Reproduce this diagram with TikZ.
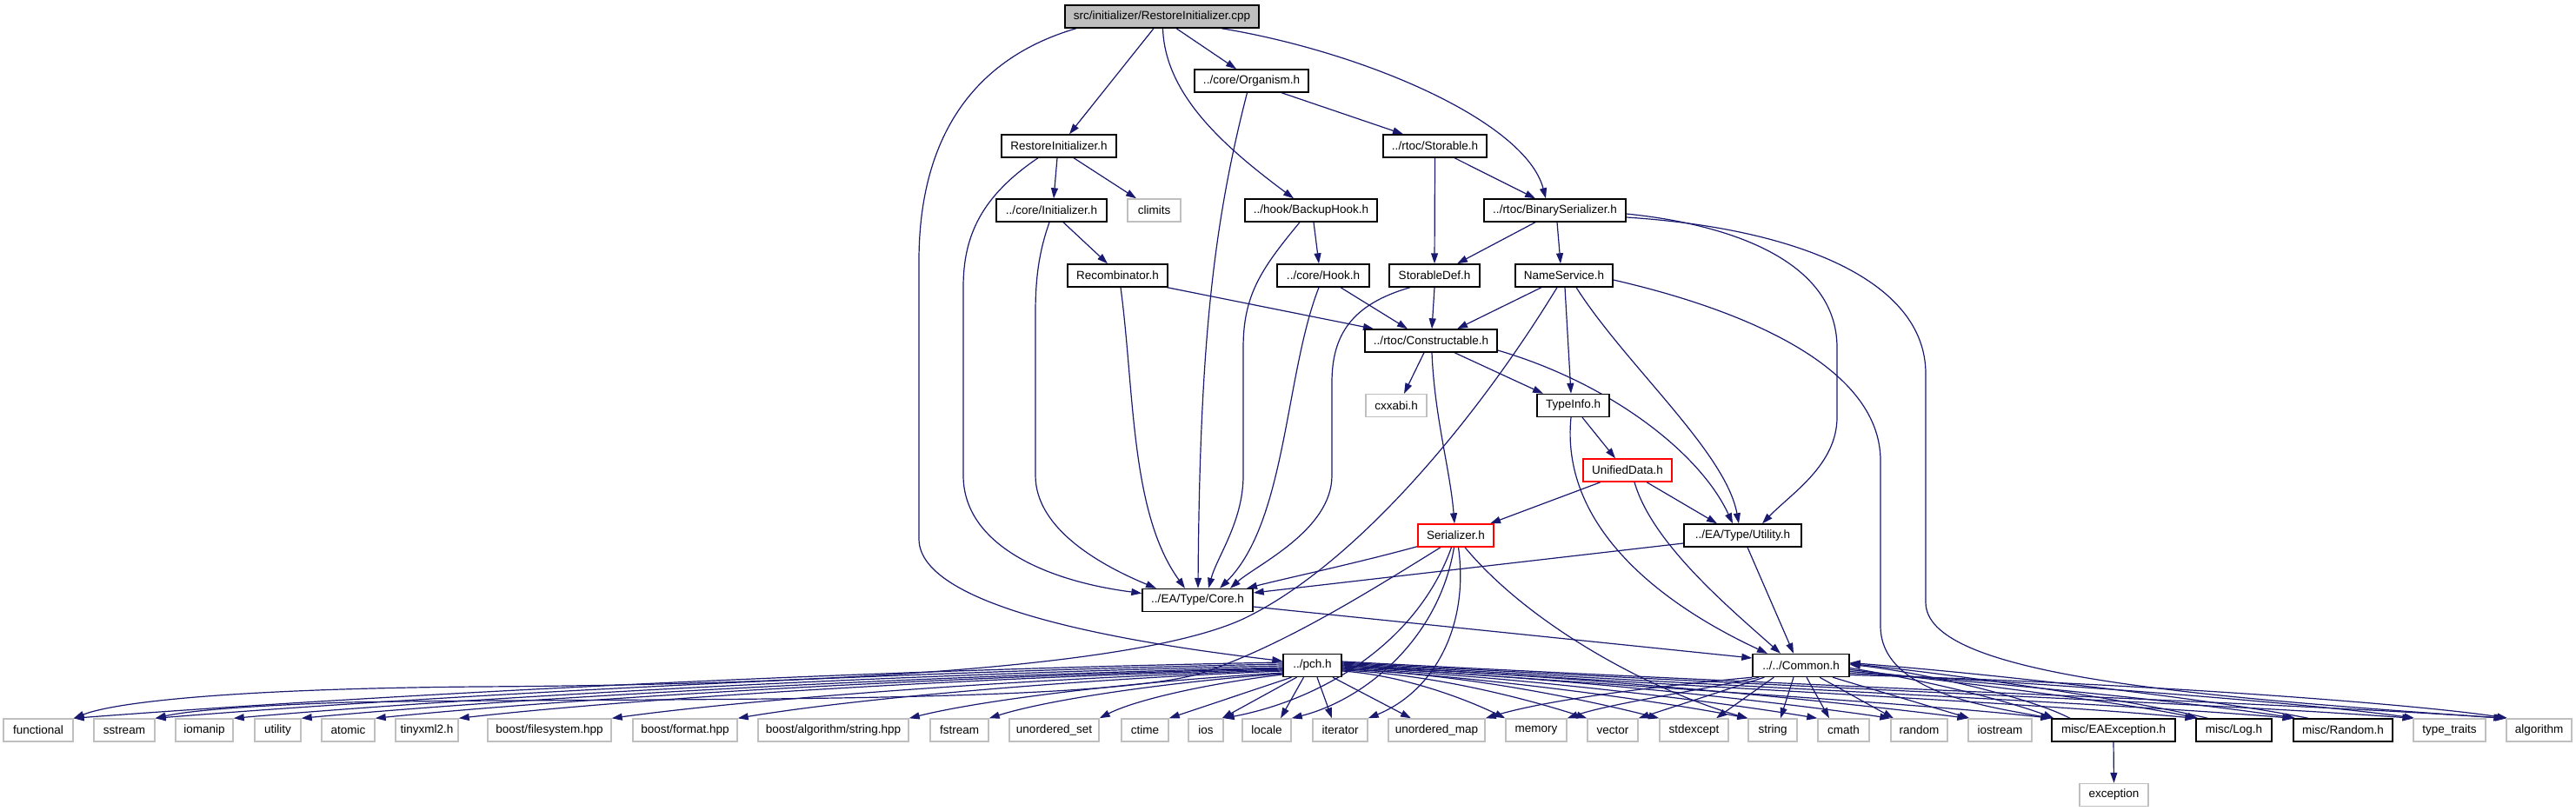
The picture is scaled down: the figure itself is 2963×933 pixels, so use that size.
\documentclass[tikz,border=0pt]{standalone}
\usepackage{fontspec}
\setmainfont{Liberation Sans}
\usetikzlibrary{arrows.meta}
\definecolor{edgec}{HTML}{191970}
\definecolor{sysg}{HTML}{BFBFBF}
\pgfdeclarelayer{bg}
\pgfsetlayers{bg,main}
\begin{document}
\begin{tikzpicture}[x=1pt, y=-1pt,
  font=\fontsize{13.5}{16}\selectfont,
  box/.style={draw=black, line width=1.4pt, fill=white, minimum height=26pt, inner sep=0pt},
  sbox/.style={box, draw=sysg},
  rbox/.style={box, draw=red},
  root/.style={box, fill=sysg},
  e/.style={draw=edgec, line width=1.2pt, -{Triangle[length=12pt,width=8pt]}}]
\useasboundingbox (0,0) rectangle (2963,933);
% ---------- nodes ----------
\node[root, minimum width=223pt] (cpp) at (1336.5,19) {src/initializer/RestoreInitializer.cpp};
\node[box, minimum width=131pt] (org) at (1439.5,93) {../core/Organism.h};
\node[box, minimum width=132pt] (rih) at (1218,168) {RestoreInitializer.h};
\node[box, minimum width=119pt] (sto) at (1650.5,168) {../rtoc/Storable.h};
\node[box, minimum width=127pt] (ini) at (1209.5,242) {../core/Initializer.h};
\node[sbox, minimum width=61pt] (cli) at (1327.5,242) {climits};
\node[box, minimum width=152pt] (bkh) at (1508,242) {../hook/BackupHook.h};
\node[box, minimum width=163pt] (bin) at (1788.5,242) {../rtoc/BinarySerializer.h};
\node[box, minimum width=115pt] (rec) at (1285.5,317) {Recombinator.h};
\node[box, minimum width=106pt] (hok) at (1522,317) {../core/Hook.h};
\node[box, minimum width=104pt] (sdf) at (1650,317) {StorableDef.h};
\node[box, minimum width=112pt] (nms) at (1799,317) {NameService.h};
\node[box, minimum width=152pt] (con) at (1646,392) {../rtoc/Constructable.h};
\node[sbox, minimum width=70pt] (cxx) at (1606,466.5) {cxxabi.h};
\node[box, minimum width=83pt] (tyi) at (1809.5,466.5) {TypeInfo.h};
\node[rbox, minimum width=102pt] (uni) at (1872,541) {UnifiedData.h};
\node[rbox, minimum width=87pt] (ser) at (1674.5,616) {Serializer.h};
\node[box, minimum width=135pt] (uti) at (2004.5,616) {../EA/Type/Utility.h};
\node[box, minimum width=127pt] (cor) at (1377.5,690.5) {../EA/Type/Core.h};
\node[box, minimum width=67pt] (pch) at (1509.5,765.5) {../pch.h};
\node[box, minimum width=111pt] (com) at (2071.5,765.5) {../../Common.h};
% bottom row
\node[sbox, minimum width=80pt] (fun) at (44,840) {functional};
\node[sbox, minimum width=70pt] (sst) at (143,840) {sstream};
\node[sbox, minimum width=66pt] (ioma) at (235,840) {iomanip};
\node[sbox, minimum width=53pt] (utl) at (319.5,840) {utility};
\node[sbox, minimum width=61pt] (ato) at (400.5,840) {atomic};
\node[sbox, minimum width=72pt] (tin) at (491,840) {tinyxml2.h};
\node[sbox, minimum width=142pt] (bfs) at (632,840) {boost/filesystem.hpp};
\node[sbox, minimum width=120pt] (bfo) at (788,840) {boost/format.hpp};
\node[sbox, minimum width=173pt] (bas) at (958.5,840) {boost/algorithm/string.hpp};
\node[sbox, minimum width=67pt] (fst) at (1103.5,840) {fstream};
\node[sbox, minimum width=103pt] (uos) at (1212.5,840) {unordered\_set};
\node[sbox, minimum width=54pt] (cti) at (1317,840) {ctime};
\node[sbox, minimum width=40pt] (ios) at (1387,840) {ios};
\node[sbox, minimum width=56pt] (loc) at (1457,840) {locale};
\node[sbox, minimum width=63pt] (itr) at (1541.5,840) {iterator};
\node[sbox, minimum width=111pt] (uom) at (1652.5,840) {unordered\_map};
\node[sbox, minimum width=70pt] (mem) at (1767,840) {memory};
\node[sbox, minimum width=58pt] (vec) at (1855,840) {vector};
\node[sbox, minimum width=79pt] (sde) at (1948.5,840) {stdexcept};
\node[sbox, minimum width=56pt] (str) at (2039,840) {string};
\node[sbox, minimum width=59pt] (cma) at (2120.5,840) {cmath};
\node[sbox, minimum width=65pt] (rnd) at (2207.5,840) {random};
\node[sbox, minimum width=73pt] (iost) at (2300.5,840) {iostream};
\node[box, minimum width=142pt] (eae) at (2431,840) {misc/EAException.h};
\node[box, minimum width=87pt] (log) at (2569.5,840) {misc/Log.h};
\node[box, minimum width=114pt] (mra) at (2695,840) {misc/Random.h};
\node[sbox, minimum width=83pt] (ttr) at (2817.5,840) {type\_traits};
\node[sbox, minimum width=75pt] (alg) at (2920.5,840) {algorithm};
\node[sbox, minimum width=79pt] (exc) at (2431.5,914.5) {exception};
% ---------- edges ----------
\begin{pgfonlayer}{bg}
% cpp
\draw[e] ([xshift=-9.5pt]cpp.south) -- ([xshift=12pt]rih.north);
\draw[e] ([xshift=16.5pt]cpp.south) -- ([xshift=-17.5pt]org.north);
\draw[e] ([xshift=1pt]cpp.south) .. controls (1340,110) and (1410,170) .. ([xshift=-20pt]bkh.north);
\draw[e] ([xshift=68.5pt]cpp.south) .. controls (1570,60) and (1755,140) .. ([xshift=-10.5pt]bin.north);
\draw[e] ([xshift=-98.5pt]cpp.south) .. controls (1110,70) and (1057,170) .. (1057,300) -- (1057,620) .. controls (1057,700) and (1300,740) .. ([yshift=5pt]pch.west);
% Organism
\draw[e] ([xshift=34.5pt]org.south) -- ([xshift=-36.5pt]sto.north);
\draw[e] ([xshift=-5pt]org.south) .. controls (1395,260) and (1380,400) .. ([xshift=0.5pt]cor.north);
% RestoreInitializer.h
\draw[e] ([xshift=-2pt]rih.south) -- ([xshift=2.5pt]ini.north);
\draw[e] ([xshift=17pt]rih.south) -- ([xshift=-20.5pt]cli.north);
\draw[e] ([xshift=-24pt]rih.south) .. controls (1130,225) and (1108,270) .. (1108,330) -- (1108,547) .. controls (1108,625) and (1200,668) .. ([yshift=8pt]cor.west);
% Initializer.h
\draw[e] ([xshift=13.5pt]ini.south) -- ([xshift=-11.5pt]rec.north);
\draw[e] ([xshift=-2.5pt]ini.south) .. controls (1195,290) and (1191,320) .. (1191,360) -- (1191,547) .. controls (1191,610) and (1270,652) .. ([xshift=-47.5pt]cor.north);
% BackupHook.h
\draw[e] ([xshift=3pt]bkh.south) -- ([xshift=-5pt]hok.north);
\draw[e] ([xshift=-13pt]bkh.south) .. controls (1450,310) and (1430,340) .. (1430,400) -- (1430,547) .. controls (1430,600) and (1400,640) .. ([xshift=12.5pt]cor.north);
% Storable.h
\draw[e] (sto.south) -- (sdf.north);
\draw[e] ([xshift=22.5pt]sto.south) -- ([xshift=-22.5pt]bin.north);
% BinarySerializer.h
\draw[e] ([xshift=-22.5pt]bin.south) -- ([xshift=26pt]sdf.north);
\draw[e] ([xshift=2.5pt]bin.south) -- ([xshift=-4pt]nms.north);
\draw[e] ([yshift=-4pt]bin.east) .. controls (1990,258) and (2113,300) .. (2113,400) -- (2113,480) .. controls (2113,535) and (2060,568) .. ([xshift=22.5pt]uti.north);
\draw[e] ([yshift=-8pt]bin.east) .. controls (2060,262) and (2215,320) .. (2215,430) -- (2215,693) .. controls (2215,775) and (2500,800) .. ([xshift=-2pt]alg.north west);
% NameService.h
\draw[e] ([xshift=-26pt]nms.south) -- ([xshift=30pt]con.north);
\draw[e] ([xshift=1pt]nms.south) -- ([xshift=-2.5pt]tyi.north);
\draw[e] ([xshift=14pt]nms.south) .. controls (1870,420) and (1985,520) .. ([xshift=-4.5pt]uti.north);
\draw[e] ([xshift=-8pt]nms.south) .. controls (1700,480) and (1560,650) .. (1430,712) .. controls (1300,772) and (900,788) .. (550,790) .. controls (300,792) and (140,805) .. (fun.north east);
\draw[e] ([yshift=-5pt]nms.east) .. controls (2000,355) and (2163,420) .. (2163,530) -- (2163,720) .. controls (2163,795) and (2280,812) .. (eae.north west);
% TypeInfo.h / UnifiedData.h
\draw[e] ([xshift=10.5pt]tyi.south) -- ([xshift=-14pt]uni.north);
\draw[e] ([xshift=-2.5pt]tyi.south) .. controls (1795,600) and (1900,690) .. ([xshift=-38.5pt]com.north);
\draw[e] ([xshift=8pt]uni.south) .. controls (1900,625) and (1990,700) .. ([xshift=-23.5pt]com.north);
\draw[e] ([xshift=-31pt]uni.south) -- ([xshift=39.5pt]ser.north);
\draw[e] ([xshift=22pt]uni.south) -- ([xshift=-29.5pt]uti.north);
% Constructable.h
\draw[e] ([xshift=-8pt]con.south) -- ([xshift=9pt]cxx.north);
\draw[e] ([xshift=27pt]con.south) -- ([xshift=-34.5pt]tyi.north);
\draw[e] ([xshift=1pt]con.south) .. controls (1650,480) and (1668,540) .. ([xshift=-1.5pt]ser.north);
\draw[e] ([yshift=-11pt]con.east) .. controls (1850,440) and (1955,520) .. ([xshift=-11.5pt]uti.north);
% row 5
\draw[e] ([xshift=57pt]rec.south) -- ([xshift=-66pt]con.north);
\draw[e] ([xshift=3.5pt]rec.south) .. controls (1305,450) and (1300,590) .. ([xshift=-14.5pt]cor.north);
\draw[e] ([xshift=20pt]hok.south) -- ([xshift=-27pt]con.north);
\draw[e] ([xshift=-5pt]hok.south) .. controls (1478,430) and (1480,600) .. ([xshift=25.5pt]cor.north);
\draw[e] (sdf.south) -- ([xshift=1pt]con.north);
\draw[e] ([xshift=-28pt]sdf.south) .. controls (1555,350) and (1532,385) .. (1532,440) -- (1532,547) .. controls (1532,610) and (1445,650) .. ([xshift=37.5pt]cor.north);
% Serializer.h
\draw[e] ([yshift=1pt]ser.south west) .. controls (1560,648) and (1480,665) .. ([xshift=56.5pt]cor.north);
\draw[e] ([xshift=-17.5pt]ser.south) .. controls (1560,690) and (1470,745) .. (1380,775) .. controls (1250,812) and (700,802) .. (400,808) .. controls (280,812) and (215,818) .. (sst.north east);
\draw[e] ([xshift=-5pt]ser.south) .. controls (1630,740) and (1520,805) .. (ios.north east);
\draw[e] ([xshift=-2pt]ser.south) .. controls (1655,735) and (1570,805) .. (loc.north east);
\draw[e] ([xshift=3pt]ser.south) .. controls (1690,720) and (1650,795) .. (itr.north east);
\draw[e] ([xshift=10.5pt]ser.south) .. controls (1760,720) and (1900,795) .. (str.north west);
% Utility.h / Core.h
\draw[e] ([yshift=-9pt]uti.west) -- ([yshift=8.5pt]cor.east);
\draw[e] ([xshift=5.5pt]uti.south) -- ([xshift=-8.5pt]com.north);
\draw[e] ([yshift=-7.5pt]cor.east) -- ([yshift=8.5pt]com.west);
% EAException
\draw[e] (eae.south) -- (exc.north);
% pch.h left
\draw[e] ([yshift=3.5pt]pch.west) .. controls (919,772) and (362,805) .. (fun.north east);
\draw[e] ([yshift=1.5pt]pch.west) .. controls (957,774) and (438,805) .. (sst.north east);
\draw[e] ([yshift=-0.5pt]pch.west) .. controls (993,776) and (510,805) .. (ioma.north east);
\draw[e] ([yshift=-2.5pt]pch.west) .. controls (1024,778) and (572,805) .. (utl.north east);
\draw[e] ([yshift=-3.5pt]pch.west) .. controls (1058,779) and (640,805) .. (ato.north east);
\draw[e] ([yshift=-4.5pt]pch.west) .. controls (1096,780) and (717,805) .. (tin.north east);
\draw[e] ([yshift=-5.5pt]pch.west) .. controls (1167,781) and (858,805) .. (bfs.north east);
\draw[e] ([yshift=-6.5pt]pch.west) .. controls (1225,782) and (974,805) .. (bfo.north east);
\draw[e] ([yshift=-8.5pt]pch.west) .. controls (1304,784) and (1131,805) .. (bas.north east);
\draw[e] ([yshift=-9.5pt]pch.west) .. controls (1340,785) and (1205,805) .. (fst.north east);
\draw[e] ([yshift=-10.5pt]pch.west) .. controls (1391,786) and (1306,805) .. (uos.north east);
\draw[e] ([xshift=-24pt]pch.south) -- (cti.north east);
% pch.h bottom
\draw[e] ([xshift=-18pt]pch.south) -- ([xshift=-2pt]ios.north east);
\draw[e] ([xshift=-10pt]pch.south) -- ([xshift=16pt]loc.north);
\draw[e] ([xshift=5.5pt]pch.south) -- ([xshift=-9.5pt]itr.north);
\draw[e] ([xshift=23.5pt]pch.south) -- ([xshift=-29.5pt]uom.north);
% pch.h right
\draw[e] ([yshift=-6.5pt]pch.east) .. controls (1619,777) and (1694,808) .. (mem.north west);
\draw[e] ([yshift=-5.5pt]pch.east) .. controls (1656,776) and (1769,808) .. (vec.north west);
\draw[e] ([yshift=-4.5pt]pch.east) .. controls (1689,775) and (1836,808) .. (sde.north west);
\draw[e] ([yshift=-3.5pt]pch.east) .. controls (1730,781) and (1917,808) .. (str.north west);
\draw[e] ([yshift=-2.5pt]pch.east) .. controls (1762,780) and (1981,808) .. (cma.north west);
\draw[e] ([yshift=-1.5pt]pch.east) .. controls (1796,779) and (2049,808) .. (rnd.north west);
\draw[e] ([yshift=-0.5pt]pch.east) .. controls (1831,778) and (2120,808) .. (iost.north west);
\draw[e] ([yshift=0.5pt]pch.east) .. controls (1870,790) and (2197,808) .. (eae.north west);
\draw[e] ([yshift=1.5pt]pch.east) .. controls (1936,790) and (2329,808) .. (log.north west);
\draw[e] ([yshift=2.5pt]pch.east) .. controls (1981,790) and (2419,808) .. (mra.north west);
\draw[e] ([yshift=3.5pt]pch.east) .. controls (2036,790) and (2529,808) .. (ttr.north west);
\draw[e] ([yshift=4.5pt]pch.east) .. controls (2079,790) and (2615,808) .. (alg.north west);
% Common.h
\draw[e] (com.south west) .. controls (1900,790) and (1780,805) .. (uom.north east);
\draw[e] ([xshift=8pt]com.south west) .. controls (1950,795) and (1850,810) .. (mem.north east);
\draw[e] ([xshift=14pt]com.south west) -- (vec.north east);
\draw[e] ([xshift=25pt]com.south west) -- ([xshift=25.5pt]sde.north);
\draw[e] ([xshift=-8.5pt]com.south) -- ([xshift=9pt]str.north);
\draw[e] ([xshift=6.5pt]com.south) -- ([xshift=-16.5pt]cma.north);
\draw[e] ([xshift=21.5pt]com.south) -- ([xshift=-29.5pt]rnd.north);
\draw[e] ([xshift=36.5pt]com.south) -- ([xshift=2pt]iost.north west);
\draw[e] ([yshift=-3pt]com.east) .. controls (2230,785) and (2320,810) .. ([xshift=3pt]eae.north west);
\draw[e] ([yshift=-5pt]com.east) .. controls (2300,790) and (2450,810) .. ([xshift=3pt]log.north west);
\draw[e] ([yshift=-7pt]com.east) .. controls (2350,790) and (2550,812) .. ([xshift=3pt]mra.north west);
\draw[e] ([yshift=-9pt]com.east) .. controls (2400,788) and (2680,812) .. ([xshift=2pt]ttr.north west);
\draw[e] ([yshift=-11pt]com.east) .. controls (2450,785) and (2780,810) .. ([xshift=2pt]alg.north west);
% back edges into Common.h
\draw[e] ([xshift=-50pt]eae.north) .. controls (2330,800) and (2200,772) .. ([yshift=1pt]com.east);
\draw[e] ([xshift=-30pt]log.north) .. controls (2450,805) and (2250,776) .. ([yshift=2pt]com.east);
\draw[e] ([xshift=-40pt]mra.north) .. controls (2550,805) and (2300,776) .. ([yshift=3pt]com.east);
\end{pgfonlayer}
\end{tikzpicture}
\end{document}
